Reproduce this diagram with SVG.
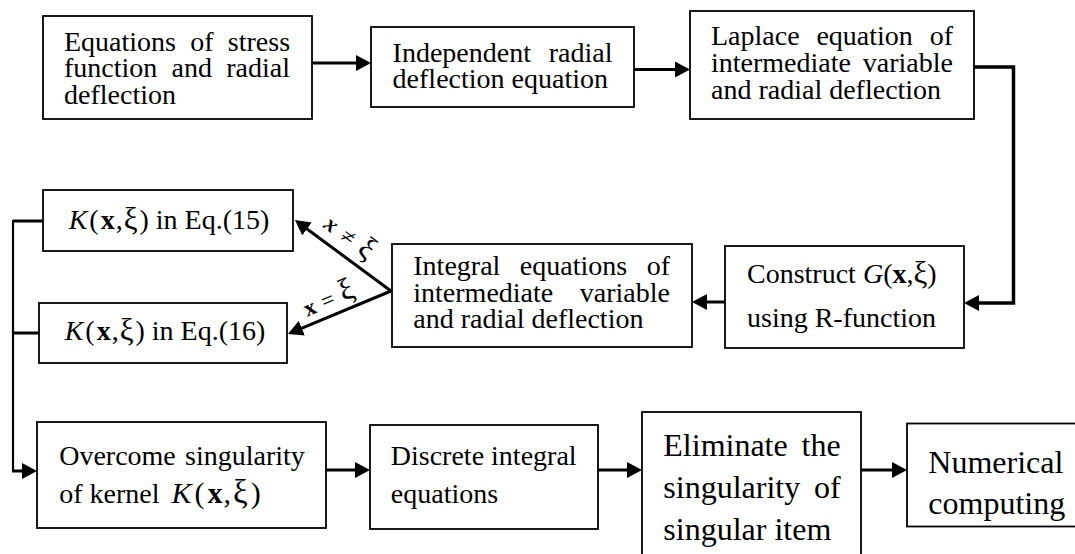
<svg xmlns="http://www.w3.org/2000/svg" width="1075" height="554" viewBox="0 0 1075 554">
<style>
.box{fill:#fff;stroke:#000;stroke-width:1.8}
.t{font-family:"Liberation Serif","Times New Roman",serif;font-size:28px;fill:#000}
.big{font-size:32px}
.lbl{font-size:23px}
.i{font-style:italic}
.b{font-weight:bold}
.xi{font-size:31px}
.c{fill:none;stroke:#000;stroke-width:3}
.thin{stroke-width:2.2}
</style>
<defs>
<marker id="ah" viewBox="0 0 15 16" refX="5" refY="8" markerWidth="15" markerHeight="16" markerUnits="userSpaceOnUse" orient="auto"><path d="M0,0 L15,8 L0,16 z" fill="#000"/></marker>
</defs>

<g id="connectors">
<line class="c" x1="312" y1="63" x2="361" y2="63" marker-end="url(#ah)"/>
<line class="c" x1="634" y1="69.5" x2="680" y2="69.5" marker-end="url(#ah)"/>
<path class="c" style="stroke-width:3.5" d="M974,67 H1013.5 V303 H974" marker-end="url(#ah)"/>
<line class="c" x1="725" y1="302" x2="702" y2="302" marker-end="url(#ah)"/>
<line class="c" x1="391" y1="291" x2="303" y2="226" marker-end="url(#ah)"/>
<line class="c" x1="391" y1="291" x2="297.2" y2="330.1" marker-end="url(#ah)"/>
<path class="c" d="M43,221 H13"/>
<path class="c" d="M39,333 H13"/>
<path class="c thin" d="M13,220 V471"/>
<line class="c" x1="12" y1="471" x2="27" y2="471" marker-end="url(#ah)"/>
<line class="c" x1="326" y1="470" x2="360" y2="470" marker-end="url(#ah)"/>
<line class="c" x1="598" y1="470" x2="632" y2="470" marker-end="url(#ah)"/>
<line class="c" x1="861" y1="470" x2="897" y2="470" marker-end="url(#ah)"/>
<text class="t lbl" transform="translate(349,238) rotate(37)" x="0" y="7" text-anchor="middle" textLength="56" lengthAdjust="spacing"><tspan class="b i">x</tspan> ≠ <tspan class="xi">ξ</tspan></text>
<text class="t lbl" transform="translate(329,300) rotate(-23)" x="0" y="7" text-anchor="middle" textLength="53" lengthAdjust="spacing"><tspan class="b">x</tspan> = <tspan class="xi">ξ</tspan></text>
</g>

<g id="n1">
<rect class="box" x="43" y="16" width="269" height="103"/>
<text class="t" x="64" y="50.5" word-spacing="7.25">Equations of stress</text>
<text class="t" x="64" y="77.3" word-spacing="7.25">function and radial</text>
<text class="t" x="64" y="104">deflection</text>
</g>

<g id="n2">
<rect class="box" x="371" y="27" width="263" height="80"/>
<text class="t" x="392.6" y="62" word-spacing="10.8">Independent radial</text>
<text class="t" x="392.6" y="88">deflection equation</text>
</g>

<g id="n3">
<rect class="box" x="690" y="11" width="284" height="108"/>
<text class="t" x="711" y="45" word-spacing="9.85">Laplace equation of</text>
<text class="t" x="711" y="71.5" word-spacing="4.8">intermediate variable</text>
<text class="t" x="711" y="98.5">and radial deflection</text>
</g>

<g id="n4">
<rect class="box" x="725" y="246" width="239" height="102"/>
<text class="t" x="747" y="283">Construct <tspan class="i">G</tspan>(<tspan class="b">x</tspan>,<tspan class="xi">ξ</tspan>)</text>
<text class="t" x="747" y="327">using R-function</text>
</g>

<g id="n5">
<rect class="box" x="392" y="244" width="300" height="103"/>
<text class="t" x="413.3" y="275" word-spacing="12.5">Integral equations of</text>
<text class="t" x="413.3" y="301.7" word-spacing="19.5">intermediate variable</text>
<text class="t" x="413.3" y="328.3">and radial deflection</text>
</g>

<g id="n6">
<rect class="box" x="43" y="190" width="250" height="61"/>
<text class="t" x="169" y="229" text-anchor="middle"><tspan class="i">K</tspan><tspan dx="2">(</tspan><tspan class="b" dx="2">x</tspan><tspan dx="1">,</tspan><tspan class="xi" dx="1">ξ</tspan><tspan dx="2">)</tspan> in Eq.(15)</text>
</g>

<g id="n7">
<rect class="box" x="39" y="303" width="248" height="60"/>
<text class="t" x="165" y="340" text-anchor="middle"><tspan class="i">K</tspan><tspan dx="2">(</tspan><tspan class="b" dx="2">x</tspan><tspan dx="1">,</tspan><tspan class="xi" dx="1">ξ</tspan><tspan dx="2">)</tspan> in Eq.(16)</text>
</g>

<g id="n8">
<rect class="box" x="37" y="422" width="289" height="106"/>
<text class="t" x="59.2" y="464.5" word-spacing="2.2">Overcome singularity</text>
<text class="t" x="59.2" y="503">of kernel<tspan class="i" dx="12" style="font-size:30px">K</tspan><tspan dx="3" style="font-size:30px">(</tspan><tspan class="b" dx="3" style="font-size:30px">x</tspan><tspan dx="1" style="font-size:30px">,</tspan><tspan class="xi" dx="2" style="font-size:33px">ξ</tspan><tspan dx="3" style="font-size:30px">)</tspan></text>
</g>

<g id="n9">
<rect class="box" x="370" y="425" width="228" height="104"/>
<text class="t" x="390.8" y="464.5">Discrete integral</text>
<text class="t" x="390.8" y="503">equations</text>
</g>

<g id="n10">
<rect class="box" x="642" y="412" width="219" height="160"/>
<text class="t big" x="663.3" y="455.5" word-spacing="5.9">Eliminate the</text>
<text class="t big" x="663.3" y="497.5" word-spacing="5.8">singularity of</text>
<text class="t big" x="663.3" y="539.5">singular item</text>
</g>

<g id="n11">
<rect class="box" x="907" y="423.5" width="180" height="103"/>
<text class="t big" x="928.3" y="473">Numerical</text>
<text class="t big" x="928.3" y="513.5">computing</text>
</g>
</svg>
